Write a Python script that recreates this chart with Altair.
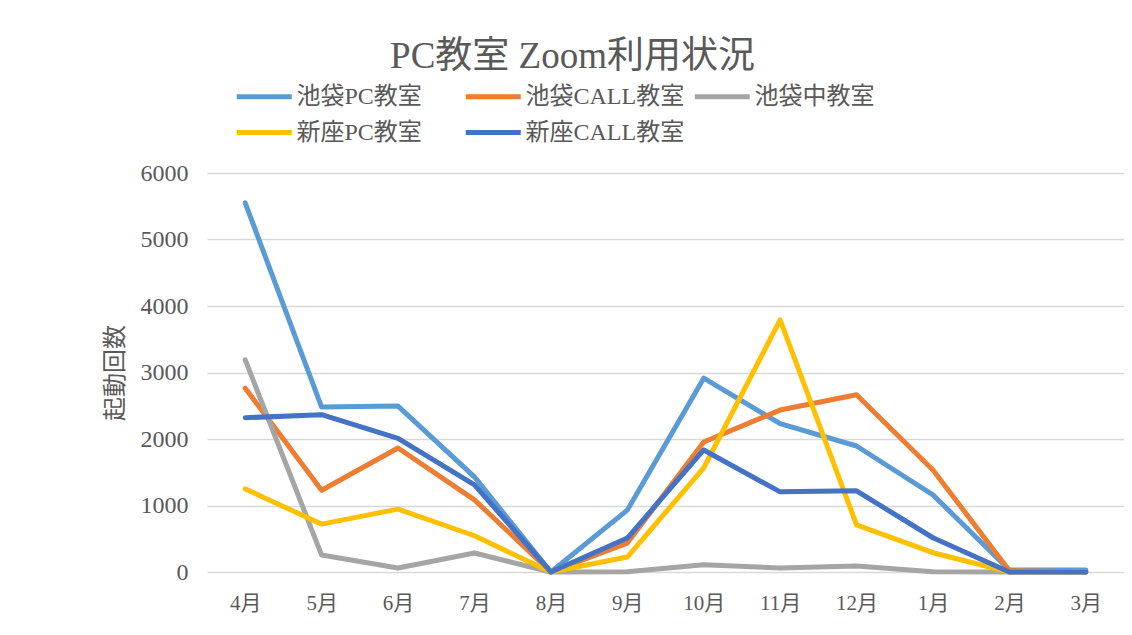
import altair as alt
import pandas as pd

months = ["4月", "5月", "6月", "7月", "8月", "9月", "10月", "11月", "12月", "1月", "2月", "3月"]
series_names = ["池袋PC教室", "池袋CALL教室", "池袋中教室", "新座PC教室", "新座CALL教室"]
colors = ["#5B9BD5", "#ED7D31", "#A5A5A5", "#FFC000", "#4472C4"]

ikebukuro_pc = [5550, 2480, 2495, 1430, 0, 930, 2915, 2230, 1895, 1160, 30, 30]
ikebukuro_call = [2765, 1230, 1865, 1085, 0, 435, 1955, 2435, 2665, 1535, 20, 0]
ikebukuro_mid = [3190, 255, 60, 285, 0, 5, 110, 60, 90, 5, 0, 0]
niiza_pc = [1250, 720, 945, 545, 0, 225, 1565, 3790, 710, 290, 0, 0]
niiza_call = [2320, 2365, 2010, 1310, 0, 510, 1835, 1205, 1220, 515, 0, 0]

all_values = [ikebukuro_pc, ikebukuro_call, ikebukuro_mid, niiza_pc, niiza_call]

rows = []
for si, (name, vals) in enumerate(zip(series_names, all_values)):
    for mi, (m, v) in enumerate(zip(months, vals)):
        rows.append({"系列": name, "月": m, "起動回数": v, "order": si * 100 + mi})
df = pd.DataFrame(rows)

FONT = "Liberation Serif, DejaVu Serif, Noto Sans CJK JP"
TXT = "#595959"

chart = (
    alt.Chart(df)
    .mark_line(strokeWidth=5, strokeCap="round", strokeJoin="round")
    .encode(
        x=alt.X("月:N", sort=months, scale=alt.Scale(padding=0.5),
                axis=alt.Axis(title=None, labelAngle=0, labelFontSize=21, labelColor=TXT,
                              labelPadding=20, ticks=False, domain=False, grid=False,
                              labelFont=FONT)),
        y=alt.Y("起動回数:Q", scale=alt.Scale(domain=[0, 6000], nice=False),
                axis=alt.Axis(title="起動回数", values=[0, 1000, 2000, 3000, 4000, 5000, 6000],
                              format="d",
                              labelFontSize=24, labelColor=TXT, labelPadding=19, ticks=False,
                              domain=False, gridColor="#D9D9D9", gridWidth=1.5,
                              titleFontSize=24, titleColor=TXT, titleFontWeight="normal",
                              titlePadding=13, titleFont=FONT, labelFont=FONT)),
        color=alt.Color("系列:N", scale=alt.Scale(domain=series_names, range=colors),
                        legend=alt.Legend(title=None, orient="none", legendX=54.5, legendY=-93,
                                          direction="horizontal",
                                          columns=3, gridAlign="all", columnPadding=0,
                                          rowPadding=7, symbolType="M-3,0H1", symbolSize=756,
                                          symbolStrokeWidth=5, labelFontSize=24, labelColor=TXT,
                                          labelFont=FONT, labelOffset=2, padding=0,
                                          labelLimit=300)),
        order=alt.Order("order:Q"),
    )
    .properties(
        width=917,
        height=399,
        autosize=alt.AutoSizeParams(type="none"),
        padding={"left": 199, "top": 165, "right": 0, "bottom": 45},
        title=alt.TitleParams("PC教室 Zoom利用状況", fontSize=37, color=TXT, font=FONT,
                              fontWeight="normal", anchor="middle", frame="group",
                              dx=-93, offset=4),
    )
    .configure_view(stroke=None)
)

chart.save("out.html", embed_options={"renderer": "svg", "actions": False})
